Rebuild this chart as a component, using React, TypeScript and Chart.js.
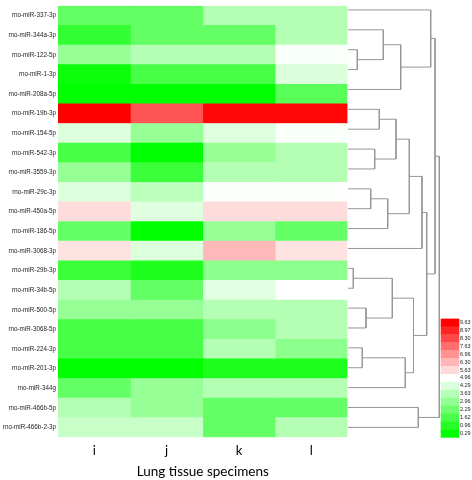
import React, { useEffect, useRef } from "react";
import { Chart, registerables } from "chart.js";

Chart.register(...registerables);

const rowLabels = [
  "rno-miR-337-3p",
  "rno-miR-344a-3p",
  "rno-miR-122-5p",
  "rno-miR-1-3p",
  "rno-miR-208a-5p",
  "rno-miR-19b-3p",
  "rno-miR-154-5p",
  "rno-miR-542-3p",
  "rno-miR-3559-3p",
  "rno-miR-29c-3p",
  "rno-miR-450a-5p",
  "rno-miR-186-5p",
  "rno-miR-3068-3p",
  "rno-miR-29b-3p",
  "rno-miR-34b-5p",
  "rno-miR-500-5p",
  "rno-miR-3068-5p",
  "rno-miR-224-3p",
  "rno-miR-201-3p",
  "rno-miR-344g",
  "rno-miR-466b-5p",
  "rno-miR-466b-2-3p",
];

const colLabels = ["i", "j", "k", "l"];

const valuesI = [2.12, 1.2, 3.04, 0.5, 0.29, 9.63, 4.32, 1.57, 3.04, 4.32, 5.6, 2.12, 5.5, 1.39, 3.59, 3.04, 1.57, 1.57, 0.29, 2.12, 3.59, 3.95];
const valuesJ = [2.12, 2.12, 3.59, 1.57, 0.29, 8.1, 3.04, 0.29, 1.39, 3.7, 4.4, 0.29, 4.32, 0.84, 2.12, 3.04, 1.57, 1.57, 0.29, 3.04, 3.04, 3.95];
const valuesK = [3.59, 2.12, 3.59, 1.57, 0.29, 9.5, 4.35, 3.04, 3.59, 4.88, 5.6, 3.04, 6.24, 2.85, 4.41, 3.59, 2.85, 3.59, 0.84, 3.59, 2.12, 2.12];
const valuesL = [3.59, 3.59, 4.85, 4.3, 1.9, 9.5, 4.85, 3.59, 3.59, 4.9, 5.6, 2.12, 5.5, 2.85, 4.96, 3.59, 3.59, 2.85, 0.84, 3.59, 2.12, 3.59];

const legendValues = [9.63, 8.97, 8.3, 7.63, 6.96, 6.3, 5.63, 4.96, 4.29, 3.63, 2.96, 2.29, 1.62, 0.96, 0.29];

// Dendrogram linkage: leaves are rows 0..21, merged clusters are numbered 22, 23, ...
const mergeLeft = [2, 1, 23, 0, 5, 7, 26, 9, 29, 28, 31, 13, 15, 33, 17, 36, 35, 32, 25, 20, 40];
const mergeRight = [3, 22, 4, 24, 6, 8, 27, 10, 11, 30, 12, 14, 16, 34, 18, 19, 37, 38, 39, 21, 41];
const mergeHeight = [9.3, 35.3, 52.7, 82.7, 31.3, 26.7, 48, 22.7, 39.7, 61.3, 74, 5.3, 18, 44.3, 14.3, 57.3, 65.5, 78.7, 87, 70.3, 91.3];

const V_MIN = 0.29;
const V_MID = 4.96;
const V_MAX = 9.63;

function colorOf(v: number): string {
  if (v >= V_MID) {
    const t = Math.min(1, (v - V_MID) / (V_MAX - V_MID));
    const c = Math.round(255 * (1 - t));
    return `rgb(255,${c},${c})`;
  }
  const t = Math.min(1, (V_MID - v) / (V_MID - V_MIN));
  const c = Math.round(255 * (1 - t));
  return `rgb(${c},255,${c})`;
}

const AXIS_H = 42.7;

export default function App() {
  const heatRef = useRef<HTMLCanvasElement | null>(null);
  const dendroRef = useRef<HTMLCanvasElement | null>(null);

  useEffect(() => {
    const columns = [valuesI, valuesJ, valuesK, valuesL];
    const heat = new Chart(heatRef.current as HTMLCanvasElement, {
      type: "bar",
      data: {
        labels: rowLabels,
        datasets: columns.map((vals, c) => ({
          label: colLabels[c],
          data: vals.map(() => [c, c + 1]),
          backgroundColor: vals.map(colorOf),
          borderWidth: 0,
          grouped: false,
          barPercentage: 1,
          categoryPercentage: 1,
        })) as any,
      },
      options: {
        animation: false,
        responsive: false,
        maintainAspectRatio: false,
        indexAxis: "y",
        layout: { padding: { left: 0, right: 124.5, top: 0, bottom: 0 } },
        plugins: { legend: { display: false }, tooltip: { enabled: false } },
        scales: {
          x: {
            type: "linear",
            min: 0,
            max: 4,
            grid: { display: false, drawTicks: false },
            border: { display: false },
            afterBuildTicks: (s: any) => {
              s.ticks = colLabels.map((_, i) => ({ value: i + 0.5 }));
            },
            afterFit: (s: any) => {
              s.height = AXIS_H;
            },
            ticks: {
              callback: (v: any) => colLabels[Math.floor(Number(v))],
              font: { family: "Lato", size: 13 },
              color: "#000",
              padding: 6,
              autoSkip: false,
              maxRotation: 0,
            },
            title: {
              display: true,
              text: "Lung tissue specimens",
              font: { family: "Lato", size: 13.5 },
              color: "#000",
              padding: { top: 0, bottom: 0 },
            },
          },
          y: {
            type: "category",
            offset: true,
            grid: { display: false, drawTicks: false },
            border: { display: false },
            afterFit: (s: any) => {
              s.width = 58;
            },
            ticks: {
              font: { family: "Liberation Sans", size: 6.3 },
              color: "#222",
              padding: 2,
              autoSkip: false,
            },
          },
        },
      } as any,
    });

    // dendrogram node positions
    const nodeY: number[] = rowLabels.map((_, r) => r);
    const nodeH: number[] = rowLabels.map(() => 0);
    mergeLeft.forEach((a, k) => {
      const b = mergeRight[k];
      nodeY.push((nodeY[a] + nodeY[b]) / 2);
      nodeH.push(mergeHeight[k]);
    });

    const legendPlugin = {
      id: "colorLegend",
      afterDraw(chart: any) {
        const ctx = chart.ctx;
        const area = chart.chartArea;
        const bandH = 7.91;
        const w = 18.6;
        const x0 = area.right - 0.3;
        const top = area.bottom - bandH * legendValues.length;
        ctx.save();
        legendValues.forEach((v, k) => {
          ctx.fillStyle = colorOf(v);
          ctx.fillRect(x0, top + k * bandH, w, bandH + 0.4);
        });
        ctx.font = '5.5px "Liberation Sans"';
        ctx.fillStyle = "#222";
        ctx.textBaseline = "middle";
        ctx.textAlign = "left";
        legendValues.forEach((v, k) => {
          ctx.fillText(v.toFixed(2), x0 + w + 0.6, top + (k + 0.5) * bandH);
        });
        ctx.restore();
      },
    };

    const dendro = new Chart(dendroRef.current as HTMLCanvasElement, {
      type: "scatter",
      data: {
        datasets: mergeLeft.map((a, k) => {
          const b = mergeRight[k];
          const h = mergeHeight[k];
          return {
            data: [
              { x: nodeH[a], y: nodeY[a] },
              { x: h, y: nodeY[a] },
              { x: h, y: nodeY[b] },
              { x: nodeH[b], y: nodeY[b] },
            ],
            showLine: true,
            borderColor: "#969696",
            borderWidth: 1,
            pointRadius: 0,
            fill: false,
            clip: 4,
          };
        }) as any,
      },
      options: {
        animation: false,
        responsive: false,
        maintainAspectRatio: false,
        layout: { padding: { left: 348, right: 31, top: 0, bottom: AXIS_H } },
        plugins: { legend: { display: false }, tooltip: { enabled: false } },
        scales: {
          x: { type: "linear", min: 0, max: 93, display: false },
          y: { type: "linear", min: -0.5, max: 21.5, reverse: true, display: false },
        },
      } as any,
      plugins: [legendPlugin],
    });

    return () => {
      heat.destroy();
      dendro.destroy();
    };
  }, []);

  return (
    <div style={{ position: "fixed", left: 0, top: 0, width: 472, height: 480, background: "#fff" }}>
      <canvas ref={heatRef} width={472} height={480} style={{ position: "absolute", left: 0, top: 0 }} />
      <canvas ref={dendroRef} width={472} height={480} style={{ position: "absolute", left: 0, top: 0 }} />
    </div>
  );
}
